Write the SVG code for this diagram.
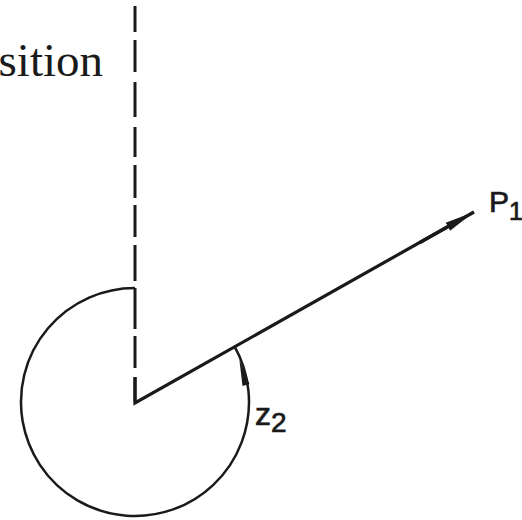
<svg xmlns="http://www.w3.org/2000/svg" width="522" height="520" viewBox="0 0 522 520">
<style>
.ln{fill:none;stroke:#1a1a1a;stroke-linecap:butt}
.sans{font-family:"Liberation Sans","DejaVu Sans",sans-serif;fill:#1a1a1a;stroke:#1a1a1a;stroke-width:0.7}
.serif{font-family:"Liberation Serif","DejaVu Serif",serif;fill:#1a1a1a}
</style>
<defs>
<marker id="ah" markerUnits="userSpaceOnUse" markerWidth="32" markerHeight="10" refX="30" refY="5" orient="auto">
<path d="M0,0.5 L30,5 L0,9.5 Z" fill="#1a1a1a"/>
</marker>
</defs>
<rect width="522" height="520" fill="#fff"/>
<g id="label-position"><text class="serif" x="103" y="76" font-size="47" text-anchor="end">sition</text></g>
<g id="connectors">
<path class="ln" stroke-width="3" d="M135,6V32M135,40V72M135,82V117M135,127V157M135,165V198M135,205V237M135,245V281M135,288V329M135,336V368M135,377V402"/>
<path class="ln" stroke-width="3.2" stroke-linejoin="miter" d="M135,377V403L448,226.5" />
<path class="ln" stroke-width="3.2" d="M420,242.5L474,212" marker-end="url(#ah)"/>
<path class="ln" stroke-width="2.5" d="M135,288 A114,114 0 1 0 234.4,346.2"/>
<polygon points="239.4,360 249.5,384 242.5,386" fill="#1a1a1a"/>
</g>
<g id="label-P1"><text class="sans" x="489" y="212" font-size="30">P<tspan font-size="25" dy="8">1</tspan></text></g>
<g id="label-z2"><text class="sans" x="255" y="425" font-size="32">z<tspan font-size="28" dy="7">2</tspan></text></g>
</svg>
